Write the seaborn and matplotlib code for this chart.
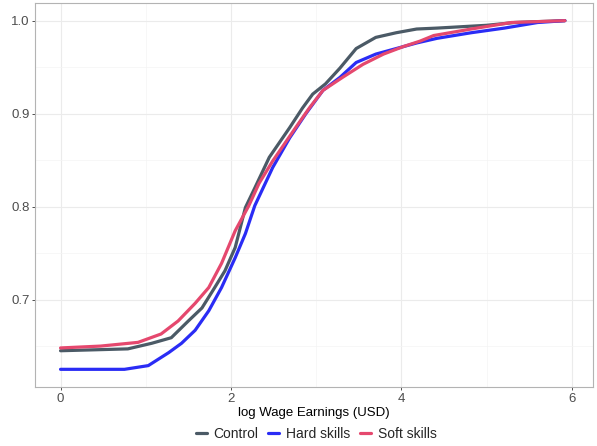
import matplotlib
matplotlib.use("Agg")
import matplotlib.pyplot as plt
import pandas as pd
import seaborn as sns
from matplotlib.ticker import MultipleLocator

# values (cumulative share by log wage earnings)
control_x = [0.0, 0.40, 0.79, 1.07, 1.30, 1.50, 1.66, 1.81, 1.93, 2.05, 2.17, 2.28,
             2.45, 2.69, 2.84, 2.96, 3.11, 3.28, 3.47, 3.70, 3.94, 4.18, 4.42, 5.00, 5.33, 5.92]
control_y = [0.645, 0.646, 0.647, 0.653, 0.659, 0.677, 0.691, 0.713, 0.731, 0.756, 0.799, 0.820,
             0.853, 0.885, 0.906, 0.921, 0.932, 0.949, 0.970, 0.982, 0.987, 0.991, 0.992, 0.995, 0.998, 1.0]

hard_x = [0.0, 0.75, 1.03, 1.27, 1.42, 1.58, 1.74, 1.89, 2.05, 2.17, 2.28, 2.49, 2.69,
          2.88, 3.08, 3.28, 3.47, 3.70, 3.94, 4.18, 4.42, 4.82, 5.21, 5.60, 5.92]
hard_y = [0.625, 0.625, 0.629, 0.643, 0.653, 0.667, 0.688, 0.713, 0.745, 0.771, 0.801, 0.842, 0.874,
          0.900, 0.925, 0.939, 0.955, 0.964, 0.970, 0.976, 0.981, 0.987, 0.992, 0.998, 1.0]

soft_x = [0.0, 0.47, 0.91, 1.18, 1.38, 1.58, 1.74, 1.89, 2.05, 2.21, 2.33, 2.49, 2.76,
          2.92, 3.08, 3.31, 3.55, 3.79, 4.02, 4.22, 4.38, 4.82, 5.29, 5.92]
soft_y = [0.648, 0.650, 0.654, 0.663, 0.677, 0.696, 0.713, 0.739, 0.774, 0.801, 0.825, 0.849, 0.885,
          0.906, 0.925, 0.939, 0.953, 0.964, 0.972, 0.978, 0.984, 0.991, 0.998, 1.0]

groups = ["Control", "Hard skills", "Soft skills"]
colors = ["#4b5a66", "#2a2cf5", "#e5486e"]

df = pd.concat([
    pd.DataFrame({"x": control_x, "y": control_y, "group": groups[0]}),
    pd.DataFrame({"x": hard_x, "y": hard_y, "group": groups[1]}),
    pd.DataFrame({"x": soft_x, "y": soft_y, "group": groups[2]}),
])

sns.set_theme(style="whitegrid")
plt.rcParams["font.family"] = ["Liberation Sans", "DejaVu Sans"]

fig = plt.figure(figsize=(5.97, 4.46), dpi=100)
ax = fig.add_axes([0.0586, 0.1323, 0.9347, 0.861])

sns.lineplot(data=df, x="x", y="y", hue="group", hue_order=groups,
             palette=dict(zip(groups, colors)), linewidth=2.3, sort=False,
             estimator=None, ax=ax, legend=False)

ax.set_xlim(-0.30, 6.25)
ax.set_ylim(0.606, 1.019)
ax.xaxis.set_minor_locator(MultipleLocator(1))
ax.yaxis.set_minor_locator(MultipleLocator(0.05))
ax.set_yticks([0.7, 0.8, 0.9, 1.0])
ax.set_yticklabels(["0.7", "0.8", "0.9", "1.0"])
ax.set_xticks([0, 2, 4, 6])
ax.set_xticklabels(["0", "2", "4", "6"])

ax.grid(which="major", color="#ebebeb", linewidth=0.8)
ax.grid(which="minor", color="#f4f4f4", linewidth=0.5)
for s in ax.spines.values():
    s.set_color("#b3b3b3")
    s.set_linewidth(0.8)
ax.tick_params(axis="both", which="major", length=2.5, width=0.6, color="#333333",
               labelsize=9.5, labelcolor="#4d4d4d", pad=1.5, bottom=True, left=True)
ax.tick_params(which="minor", length=0)

ax.set_xlabel("log Wage Earnings (USD)", fontsize=9.5, color="black", labelpad=2)
ax.set_ylabel("")

handles = [plt.Line2D([], [], color=c, linewidth=2.3) for c in colors]
fig.legend(handles, groups, loc="center", bbox_to_anchor=(0.53, 0.027), ncol=3,
           frameon=False, fontsize=10, handlelength=0.8, handletextpad=0.5,
           columnspacing=0.7)

fig.savefig("out.png", dpi=100)
